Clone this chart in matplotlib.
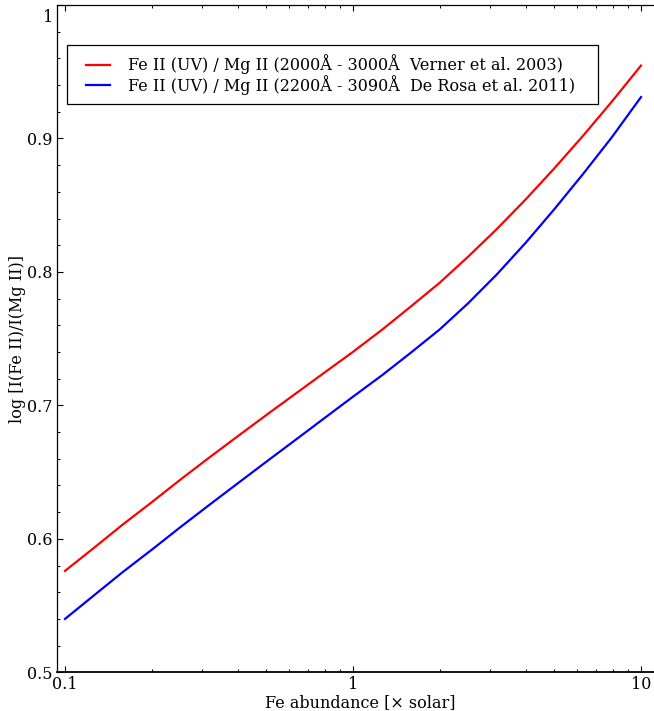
import numpy as np
import matplotlib
matplotlib.use("Agg")
import matplotlib.pyplot as plt
from matplotlib.ticker import FixedLocator, FixedFormatter, MultipleLocator, LogLocator, NullFormatter
from matplotlib.legend_handler import HandlerLine2D

# ---------------- data ----------------
fe_abundance = [0.1, 0.126, 0.158, 0.2, 0.251, 0.316, 0.398, 0.501, 0.631, 0.794,
                1.0, 1.26, 1.58, 2.0, 2.51, 3.16, 3.98, 5.01, 6.31, 7.94, 10.0]
ratio_verner = [0.5760, 0.5932, 0.6104, 0.6274, 0.6442, 0.6607, 0.6769, 0.6929, 0.7087, 0.7244,
                0.7401, 0.7566, 0.7737, 0.7919, 0.8114, 0.8322, 0.8544, 0.8778, 0.9023, 0.9279, 0.9546]
ratio_derosa = [0.5400, 0.5576, 0.5748, 0.5918, 0.6086, 0.6252, 0.6416, 0.6579, 0.6741, 0.6903,
                0.7065, 0.7225, 0.7391, 0.7569, 0.7765, 0.7982, 0.8219, 0.8472, 0.8737, 0.9012, 0.9310]

label_verner = "Fe II (UV) / Mg II (2000\u00c5 - 3000\u00c5  Verner et al. 2003)"
label_derosa = "Fe II (UV) / Mg II (2200\u00c5 - 3090\u00c5  De Rosa et al. 2011)"

yticks = [0.5, 0.6, 0.7, 0.8, 0.9, 1.0]
ytick_labels = ["0.5", "0.6", "0.7", "0.8", "0.9", ""]
xticks = [0.1, 1, 10]
xtick_labels = ["0.1", "1", "10"]
xlabel = "Fe abundance [\u00d7 solar]"
ylabel = "log [I(Fe II)/I(Mg II)]"

# ---------------- style ----------------
plt.rcParams["font.family"] = ["DejaVu Serif"]
FS = 11.5

W, H, DPI = 654, 711, 100
fig = plt.figure(figsize=(W / DPI, H / DPI), dpi=DPI)
ax_left, ax_right, ax_bot, ax_top = 57.0, 663.8, 672.3, 5.0
ax = fig.add_axes([ax_left / W, 1 - ax_bot / H, (ax_right - ax_left) / W, (ax_bot - ax_top) / H])

ax.plot(fe_abundance, ratio_verner, color="#ff0000", lw=1.6, label=label_verner)
ax.plot(fe_abundance, ratio_derosa, color="#0000ff", lw=1.6, label=label_derosa)

ax.set_xscale("log")
ax.set_xlim(0.0938, 12.0)
ax.set_ylim(0.5, 1.0)

ax.xaxis.set_major_locator(FixedLocator(xticks))
ax.xaxis.set_major_formatter(FixedFormatter(xtick_labels))
ax.xaxis.set_minor_locator(LogLocator(base=10, subs=np.arange(2, 10)))
ax.xaxis.set_minor_formatter(NullFormatter())
ax.yaxis.set_major_locator(FixedLocator(yticks))
ax.yaxis.set_major_formatter(FixedFormatter(ytick_labels))
ax.yaxis.set_minor_locator(MultipleLocator(0.02))

ax.tick_params(which="both", direction="in", top=True, right=False, labelsize=FS, pad=3)
ax.tick_params(which="major", length=4.5, width=0.8)
ax.tick_params(which="minor", length=2.3, width=0.7)
for s in ax.spines.values():
    s.set_linewidth(0.9)
ax.spines["bottom"].set_linewidth(1.3)

# the top "1" label sits a bit below its tick in the reference
ax.annotate("1", xy=(0, 1.0), xycoords=("axes fraction", "data"), xytext=(-3, -9.0),
            textcoords="offset points", ha="right", va="center", fontsize=FS)

aw = ax_right - ax_left
ah = ax_bot - ax_top
ax.set_xlabel(xlabel, fontsize=FS)
ax.xaxis.set_label_coords(0.5, (ax_bot - 694.0) / ah)
ax.set_ylabel(ylabel, fontsize=FS)
ax.yaxis.set_label_coords((26.5 - ax_left) / aw, 0.5)


class ShiftedLine(HandlerLine2D):
    def __init__(self, shift, **kw):
        super().__init__(**kw)
        self.shift = shift

    def create_artists(self, legend, orig_handle, xdescent, ydescent, width, height, fontsize, trans):
        arts = super().create_artists(legend, orig_handle, xdescent, ydescent, width, height, fontsize, trans)
        for a in arts:
            xd = np.asarray(a.get_xdata(), dtype=float).copy()
            if xd.size >= 2:
                xd[0] = xd[0] + self.shift
            a.set_xdata(xd)
        return arts


em = FS * DPI / 72.0
shift_px = 9.0
lx0 = (67.3 - ax_left) / aw
lx1 = (598.0 - ax_left) / aw
ly_top = (ax_bot - 45.0) / ah
leg = ax.legend(loc="upper left", bbox_to_anchor=(lx0, ly_top - 0.1, lx1 - lx0, 0.1),
                mode="expand", borderaxespad=0, fontsize=FS, frameon=True, fancybox=False,
                edgecolor="black", framealpha=1, borderpad=0.6, labelspacing=0.02,
                handlelength=(24 + shift_px) / em, handletextpad=(128.3 - 110) / em,
                handler_map={matplotlib.lines.Line2D: ShiftedLine(shift_px * 72.0 / DPI)})
leg.get_frame().set_linewidth(0.9)

fig.savefig("out.png", dpi=DPI)
